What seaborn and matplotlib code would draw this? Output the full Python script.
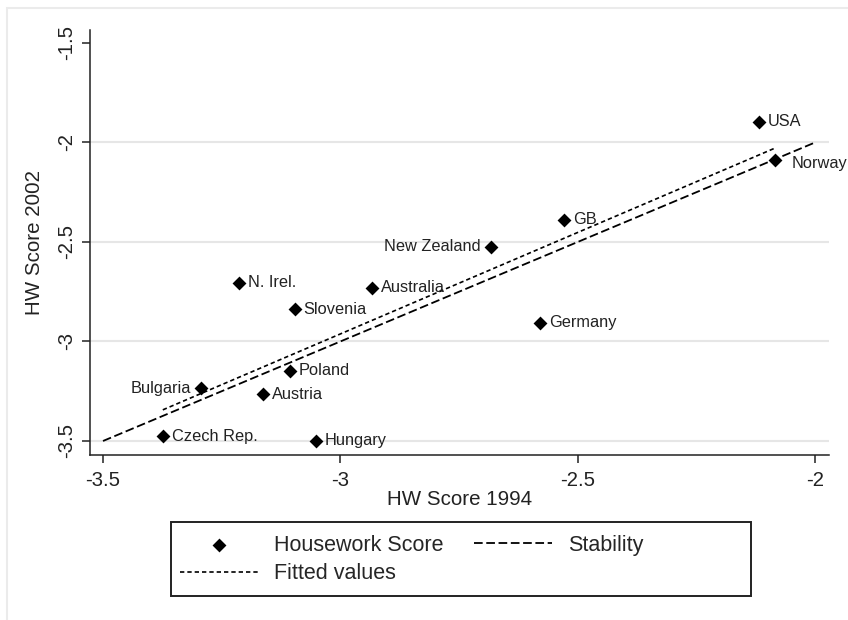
import numpy as np
import pandas as pd
import seaborn as sns
import matplotlib.pyplot as plt
from matplotlib.patches import Rectangle

# country scores
countries = ['USA', 'Norway', 'GB', 'New Zealand', 'N. Irel.', 'Australia', 'Slovenia',
             'Germany', 'Poland', 'Bulgaria', 'Austria', 'Czech Rep.', 'Hungary']
hw_1994 = [-2.119, -2.085, -2.529, -2.683, -3.214, -2.934, -3.096,
           -2.580, -3.106, -3.294, -3.163, -3.374, -3.052]
hw_2002 = [-1.897, -2.088, -2.389, -2.525, -2.706, -2.731, -2.837,
           -2.907, -3.148, -3.234, -3.264, -3.475, -3.500]
label_side = ['r', 'rb', 'r', 'l', 'r', 'r', 'r', 'r', 'r', 'l', 'r', 'r', 'r']

stability = [-3.5, -2.0]
x_ticks = [-3.5, -3.0, -2.5, -2.0]
x_tick_labels = ['-3.5', '-3', '-2.5', '-2']
y_ticks = [-3.5, -3.0, -2.5, -2.0, -1.5]
y_tick_labels = ['-3.5', '-3', '-2.5', '-2', '-1.5']

df = pd.DataFrame({'country': countries, 'hw94': hw_1994, 'hw02': hw_2002, 'side': label_side})

sns.set_theme(style='white')
plt.rcParams['font.family'] = ['Liberation Sans', 'DejaVu Sans']
plt.rcParams['axes.unicode_minus'] = False

W, H = 848, 620
fig = plt.figure(figsize=(W / 100, H / 100), dpi=100)
# light outer frame of the graph region
fig.patches.append(Rectangle((7 / W, -0.1), 1.2, 1 - 8 / H + 0.1, transform=fig.transFigure,
                             fill=False, edgecolor='#ebebeb', lw=1.5))
ax = fig.add_axes([90 / W, 1 - 455 / H, 739 / W, 425 / H])

sns.regplot(data=df, x='hw94', y='hw02', scatter=False, ci=None, truncate=True, ax=ax,
            label='Fitted values',
            line_kws=dict(color='black', lw=1.2, dashes=(2.6, 1.8)))
sns.lineplot(x=stability, y=stability, color='black', lw=1.3, label='Stability', ax=ax)
for line in ax.lines:
    if line.get_label() == 'Stability':
        line.set_dashes((4.8, 2.0))
sns.scatterplot(data=df, x='hw94', y='hw02', marker='D', color='black', s=50,
                edgecolor='black', linewidth=0, label='Housework Score', ax=ax, zorder=3)

for _, r in df.iterrows():
    if r.side == 'l':
        off, ha = (-10, 0), 'right'
    elif r.side == 'rb':
        off, ha = (17, -3), 'left'
    else:
        off, ha = (9, 0), 'left'
    ax.annotate(r.country, (r.hw94, r.hw02), xytext=off, textcoords='offset pixels',
                ha=ha, va='center', fontsize=11.8, color='#222222')

ax.set_xlim(-3.5274, -1.9705)
ax.set_ylim(-3.5704, -1.4347)
ax.set_xticks(x_ticks)
ax.set_xticklabels(x_tick_labels)
ax.set_yticks(y_ticks)
ax.set_yticklabels(y_tick_labels, rotation=90, va='center')
ax.tick_params(axis='both', direction='out', length=5.8, width=1.1, color='#222222',
               labelsize=14.6, labelcolor='#222222', left=True, bottom=True)
ax.tick_params(axis='x', pad=6)
ax.tick_params(axis='y', pad=4)
ax.yaxis.grid(True, color='#e6e6e6', lw=1.5)
ax.get_ygridlines()[-1].set_visible(False)
ax.xaxis.grid(False)
for side in ['top', 'right']:
    ax.spines[side].set_visible(False)
for side in ['left', 'bottom']:
    ax.spines[side].set_color('#222222')
    ax.spines[side].set_linewidth(1.1)
ax.set_xlabel('HW Score 1994', fontsize=14.8, color='#222222', labelpad=0)
ax.set_ylabel('HW Score 2002', fontsize=14.8, color='#222222', labelpad=10)

handles, labels = ax.get_legend_handles_labels()
order = [labels.index('Housework Score'), labels.index('Fitted values'), labels.index('Stability')]
if ax.get_legend() is not None:
    ax.get_legend().remove()
fig.legend([handles[i] for i in order], [labels[i] for i in order], ncol=2,
           loc='upper left', bbox_to_anchor=(180 / W, 1 - 535 / H),
           fontsize=15.5, frameon=False, handlelength=3.6, columnspacing=1.45,
           handletextpad=0.75, labelspacing=0.33, borderpad=0, borderaxespad=0)
# legend box is wider than its entries
fig.patches.append(Rectangle((171 / W, 1 - 596 / H), 580 / W, 74 / H, transform=fig.transFigure,
                             fill=False, edgecolor='#222222', lw=1.4))

fig.savefig('out.png', dpi=100, facecolor='white')
